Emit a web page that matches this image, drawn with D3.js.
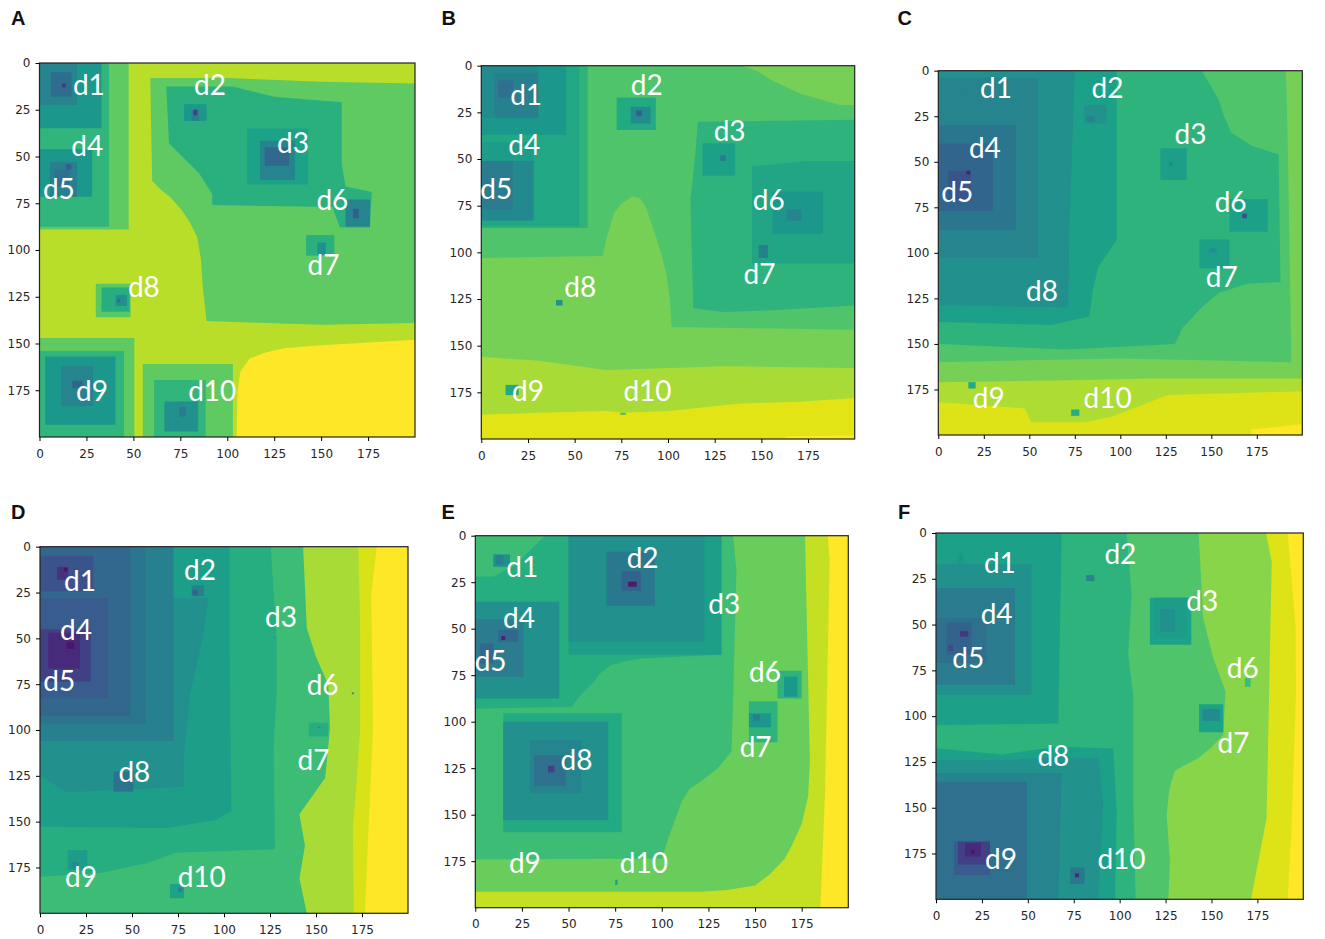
<!DOCTYPE html>
<html>
<head>
<meta charset="utf-8">
<script src="https://cdn.jsdelivr.net/npm/d3@7"></script>
<style>
  html, body { margin: 0; padding: 0; background: #fff; }
  .tick text { font-family: "DejaVu Sans", sans-serif; font-size: 12px; fill: #262626; }
  .letter { font-family: "Liberation Sans", Arial, sans-serif; font-size: 20px; font-weight: bold; fill: #111; }
  .dlabel { font-family: Lato, sans-serif; font-size: 28px; fill: #fff; text-anchor: middle; }
</style>
</head>
<body>
<div id="chart"></div>
<script>
const panelNames = ["A", "B", "C", "D", "E", "F"];
const tickValues = [0, 25, 50, 75, 100, 125, 150, 175];
const labelNames = ["d1", "d2", "d3", "d4", "d5", "d6", "d7", "d8", "d9", "d10"];

// each region: viridis value, then points in grid units. two points = a rectangle
const regionsA = [
  [0.875, [0, 0], [200, 200]],
  [1, [105, 200], [105.5, 175], [107, 165], [112, 158], [120, 155], [130, 152.5], [150, 151], [175, 149.5], [200, 148], [200, 200]],
  [0.73, [59, 8], [100, 8], [150, 10], [200, 11], [200, 139], [150, 140], [89, 138], [87, 120], [86, 105], [84, 93], [80, 85], [76, 79], [70, 72], [65, 68], [60, 63]],
  [0.61, [67.5, 12.5], [103, 12.5], [125, 18], [161, 21], [161, 54], [163, 66], [177, 69], [176, 88], [160, 88], [156, 77], [92, 76], [92, 70], [85, 59], [78, 52], [69, 43]],
  [0.42, [163, 73], [176, 87.5]],
  [0.25, [167, 78], [170, 83]],
  [0.55, [110.5, 35], [143, 65]],
  [0.42, [117.5, 41.6], [136, 62.6]],
  [0.3, [120, 45], [133, 55]],
  [0.5, [77, 22], [89, 31]],
  [0.4, [81, 25], [85, 31]],
  [0.15, [82, 25], [84, 28]],
  [0.61, [142, 92], [157, 103]],
  [0.47, [148, 96], [152.5, 102.5]],
  [0.72, [30, 118], [48.5, 136]],
  [0.6, [33, 120], [48, 133]],
  [0.47, [40.5, 124], [46.5, 130]],
  [0.35, [41.5, 126], [43, 128]],
  [0.73, [0, 0], [47.5, 89]],
  [0.63, [0, 0], [37, 87.5]],
  [0.5, [0, 0], [33, 35]],
  [0.42, [0, 0], [20, 22.5]],
  [0.32, [6, 5], [17, 18]],
  [0.12, [12, 11], [14, 13]],
  [0.63, [0, 35], [37, 46]],
  [0.5, [0, 46], [28, 71.5]],
  [0.4, [5.5, 53], [20, 71.5]],
  [0.33, [8, 57], [16, 66]],
  [0.25, [14, 54], [17, 57]],
  [0.73, [0, 147], [50.5, 200]],
  [0.63, [0, 154], [45, 200]],
  [0.5, [3, 157], [40.5, 193.5]],
  [0.42, [11.5, 162], [28.5, 183.5]],
  [0.28, [17.5, 170], [23, 174]],
  [0.73, [55, 161], [103, 200]],
  [0.63, [61, 169.5], [88.5, 200]],
  [0.47, [66.5, 181], [84.5, 197]],
  [0.38, [74.5, 184], [78, 189]]
];

const regionsB = [
  [0.7, [0, 0], [200, 200]],
  [0.77, [139.5, 0], [148, 3], [156, 8], [171, 15], [192, 21], [200, 21], [200, 0]],
  [0.77, [0, 103], [65, 102], [67, 93], [69, 86], [71, 79], [75, 74], [81, 70], [85, 71], [88, 75.5], [91, 84], [94, 93], [97, 103], [99, 111], [101, 125], [102, 140], [200, 141.5], [200, 200], [0, 200]],
  [0.85, [0, 156], [30, 158], [67, 163], [130, 161], [200, 162], [200, 200], [0, 200]],
  [0.95, [0, 187], [30, 186], [67, 185], [76, 186], [100, 185], [138.5, 181], [170, 180], [200, 178], [200, 200], [0, 200]],
  [1, [163, 198.5], [200, 198], [200, 200], [163, 200]],
  [0.62, [116, 30], [200, 29], [200, 128.5], [156, 131], [130, 132], [113.5, 130], [112, 72], [114.5, 49]],
  [0.56, [145, 54], [174, 51], [200, 51], [200, 106], [145, 106]],
  [0.5, [156, 67.5], [183, 90]],
  [0.42, [163.5, 77], [171.5, 83]],
  [0.4, [148.5, 96], [153.5, 103]],
  [0.54, [118.5, 41.5], [136, 59]],
  [0.38, [128, 48], [131, 51]],
  [0.58, [72.5, 17], [93.5, 34.5]],
  [0.45, [80, 22], [90.7, 31]],
  [0.25, [83, 24], [86, 27]],
  [0.58, [13, 171], [20, 176.5]],
  [0.48, [40, 125.5], [43.5, 128.5]],
  [0.66, [74.5, 186], [77.5, 187]],
  [0.62, [0, 0], [57, 87]],
  [0.57, [0, 0], [52.5, 86]],
  [0.5, [0, 0], [45.5, 37]],
  [0.45, [0, 0], [30.5, 28]],
  [0.4, [7, 4], [30.5, 28]],
  [0.33, [9, 8], [17, 17]],
  [0.52, [0, 41], [28, 83]],
  [0.44, [0, 51], [28, 83]],
  [0.38, [0, 51], [17, 77]]
];

const regionsC = [
  [0.7, [0, 0], [200, 200]],
  [0.77, [191, 0], [200, 0], [200, 200], [0, 200], [0, 160], [100, 158], [194, 160], [193, 100], [192, 40]],
  [0.62, [0, 0], [144.7, 0], [150, 9], [154, 16], [157, 25], [161, 34], [172, 41], [187, 46], [188, 116], [170, 117], [154, 122], [144.7, 130], [134, 141.5], [130, 150], [71, 153], [0, 150]],
  [0.86, [0, 171], [71, 170], [117, 169], [200, 169], [200, 200], [0, 200]],
  [0.94, [0, 182], [47.6, 185.4], [51, 193], [80.6, 193], [95, 190], [108, 185], [126, 178], [200, 176], [200, 200], [0, 200]],
  [1, [172, 197], [200, 194], [200, 200], [172, 200]],
  [0.54, [0, 0], [98, 0], [98, 93], [88, 107.6], [85, 120], [83, 135], [62, 139.6], [0, 138]],
  [0.47, [0, 0], [75, 0], [72, 89], [71.4, 130], [0, 128.7]],
  [0.42, [0, 4], [55, 102.5]],
  [0.36, [0, 30], [42.5, 87.5]],
  [0.29, [0, 40], [30, 77]],
  [0.22, [5.5, 55], [18, 71]],
  [0.05, [15.5, 55], [17.5, 57]],
  [0.4, [12.5, 11.5], [14, 13]],
  [0.48, [80, 19], [92.5, 29]],
  [0.42, [81.5, 25], [86, 28]],
  [0.53, [122, 42.6], [136.5, 60]],
  [0.42, [127, 50], [128.5, 52]],
  [0.54, [160, 70.5], [181, 88.4]],
  [0.2, [167, 78.5], [169.5, 81]],
  [0.54, [143.4, 92.6], [160, 108.5]],
  [0.47, [149, 97.5], [153, 100]],
  [0.58, [16.5, 171], [20.5, 174.5]],
  [0.6, [73, 186], [77.5, 189.5]]
];

const regionsD = [
  [0.66, [0, 0], [200, 200]],
  [0.85, [143, 0], [145, 44.5], [150, 60], [156.7, 75.5], [157.6, 99], [155, 126], [148, 136], [141, 146], [144, 163], [141, 181], [145, 200], [200, 200], [200, 0]],
  [0.93, [173, 0], [174, 44.5], [174, 99], [172, 130], [170, 153.6], [170.6, 200], [200, 200], [200, 0]],
  [1, [183, 0], [180, 26], [181, 99], [178.5, 154], [176.6, 200], [200, 200], [200, 0]],
  [0.6, [0, 0], [125.4, 0], [128.6, 50], [128.6, 81], [127, 108], [127.7, 165], [74, 167], [58, 172.7], [32.6, 178], [0, 180]],
  [0.53, [0, 0], [103, 0], [103, 44.5], [104, 144], [96, 149], [69, 153.6], [0, 152.7]],
  [0.47, [0, 0], [72.5, 0], [72.5, 28], [91.5, 28], [88.8, 48], [81.5, 81], [78, 117], [78, 131], [14.5, 134], [0, 125]],
  [0.4, [0, 0], [72.5, 106]],
  [0.36, [0, 0], [57.6, 97]],
  [0.3, [0, 0], [49, 92.7]],
  [0.25, [0, 28], [37, 82.7]],
  [0.22, [0, 5], [29, 24.5]],
  [0.15, [0, 45], [27.5, 73.6]],
  [0.08, [4.5, 47], [21.7, 66.4]],
  [0.02, [14.5, 52], [18.5, 55.8]],
  [0.1, [9.4, 11], [15.4, 18]],
  [0.02, [13, 11.5], [15, 13.5]],
  [0.4, [82.4, 21], [89, 27]],
  [0.28, [83, 23.5], [85.5, 26.5]],
  [0.5, [127, 49], [128, 50]],
  [0.4, [169.5, 79.5], [170.5, 80.5]],
  [0.6, [146, 96], [156.5, 103.5]],
  [0.5, [151, 98], [152.5, 99]],
  [0.35, [40, 122.7], [50.7, 133.6]],
  [0.52, [15, 165.5], [25.7, 176.4]],
  [0.45, [17.2, 172], [21, 175.5]],
  [0.55, [70.6, 184], [78.3, 191.8]],
  [0.42, [75, 186], [77.5, 188.5]]
];

const regionsE = [
  [0.9, [0, 0], [200, 200]],
  [1, [189, 0], [190, 14], [187.5, 139], [185, 200], [200, 200], [200, 0]],
  [0.75, [0, 0], [176.8, 0], [179.4, 121.5], [178.5, 140], [175, 155], [170, 166], [166, 173.5], [158, 182], [150, 188], [135, 190.5], [121, 191.4], [0, 191.4]],
  [0.66, [0, 0], [138.3, 0], [140, 19], [138.3, 85.7], [137.4, 116], [130, 125], [121, 132], [115, 136], [110.6, 143], [107, 153], [103.5, 162.7], [100, 173.5], [0, 174]],
  [0.6, [0, 93], [51.7, 92], [57, 85], [62.4, 80], [67, 74], [73, 69.5], [80, 67.5], [89, 66], [132, 64], [132, 0], [37.4, 0], [21, 16], [9.6, 22], [0, 22]],
  [0.53, [50, 0], [132, 64]],
  [0.47, [50, 0], [122.8, 57]],
  [0.37, [70.4, 8.6], [96.3, 37.6]],
  [0.28, [78.5, 19], [88.8, 29.7]],
  [0.03, [82, 24.7], [86.5, 27.4]],
  [0.47, [0, 35.5], [45, 87.5]],
  [0.38, [0, 45], [25.7, 75.8]],
  [0.3, [12.3, 50.7], [23, 57]],
  [0.03, [14, 54], [16, 56]],
  [0.3, [2.5, 58], [9.7, 68.6]],
  [0.47, [9.6, 10], [18.6, 16.7]],
  [0.4, [11, 10.4], [15, 15.4]],
  [0.58, [15, 95.5], [78.5, 159.5]],
  [0.47, [15, 100], [71.3, 153]],
  [0.42, [29.3, 110], [57, 138.5]],
  [0.33, [31.6, 118], [48.4, 134.4]],
  [0.15, [39, 123.7], [42.4, 127.2]],
  [0.62, [162, 72.6], [175, 87.5]],
  [0.5, [165.5, 75.8], [172.7, 86.6]],
  [0.62, [146.7, 89], [162, 111]],
  [0.5, [146.7, 95.5], [158.5, 103]],
  [0.4, [149, 96], [152.6, 99.6]],
  [0.55, [75, 185], [76.3, 187.8]]
];

const regionsF = [
  [0.8, [0, 0], [200, 200]],
  [0.94, [179.7, 0], [182.8, 15.7], [181, 106.6], [180, 155.8], [175.5, 179.4], [171.5, 200], [200, 200], [200, 0]],
  [1, [191.5, 0], [193.6, 24.7], [195.8, 52], [196, 88], [193.6, 161], [191.5, 200], [200, 200], [200, 0]],
  [0.7, [0, 0], [143, 0], [145.5, 46.6], [151, 68.4], [157.7, 86.6], [156.4, 110.3], [150, 117], [142.8, 123], [135, 127], [130, 130], [127, 140], [125.6, 154], [127.4, 179.4], [126.5, 200], [0, 200]],
  [0.62, [0, 0], [103.8, 0], [106.5, 34], [104.7, 66.6], [107.4, 88.4], [107.4, 143], [108.7, 200], [0, 200]],
  [0.54, [0, 0], [68.4, 0], [66.6, 104], [0, 105]],
  [0.54, [0, 117.5], [35.8, 121], [66.6, 116.6], [96.5, 117.6], [98.4, 152], [97.5, 200], [0, 200]],
  [0.48, [0, 124], [35.8, 124], [66, 122.5], [88.4, 123], [91, 147], [88.4, 200], [0, 200]],
  [0.42, [0, 131], [68.4, 131], [66.6, 200], [0, 200]],
  [0.33, [0, 135.8], [49.4, 200]],
  [0.25, [10, 168.5], [29.4, 186.7]],
  [0.15, [12, 168.5], [29.4, 181]],
  [0.08, [15.8, 169.4], [24.5, 176.7]],
  [0.02, [19, 173], [21, 175]],
  [0.37, [73, 182.7], [80.8, 191.6]],
  [0.08, [75.7, 185.8], [77.9, 188]],
  [0.47, [0, 17], [52, 88.4]],
  [0.38, [0, 30], [43, 83]],
  [0.33, [0, 46.6], [27.6, 71]],
  [0.28, [5.8, 49], [19.4, 66.6]],
  [0.12, [13, 53.5], [17.6, 56.6]],
  [0.18, [6.7, 61], [9.4, 64.4]],
  [0.5, [11.3, 11], [14.9, 16.6]],
  [0.42, [81.7, 23], [86.2, 26.2]],
  [0.55, [116.5, 35.3], [139, 61]],
  [0.52, [119, 35.3], [136.5, 57]],
  [0.47, [122, 41.5], [130, 54]],
  [0.66, [168.2, 79.3], [171.3, 84]],
  [0.55, [143.2, 93.5], [156.4, 108.8]],
  [0.45, [145, 96], [154.6, 102.6]]
];

// label anchors in grid units, same order as labelNames: [centre x, baseline y]
const labelsA = [[26.3, 17.3], [90.8, 17.3], [135, 48], [25.4, 49.5], [10.3, 72.8], [156, 78.6], [151.3, 113.3], [55.6, 125], [28, 180.6], [92, 180.6]];
const labelsB = [[24, 21], [88.6, 15.7], [133, 40.4], [23, 48], [8, 71.4], [154, 77.3], [149, 117], [53, 124], [25, 179.5], [89, 179.5]];
const labelsC = [[31.7, 15.2], [93, 15.2], [138.6, 40.4], [25.6, 48], [10.4, 72], [160.6, 77.4], [155.7, 119], [57, 126.4], [27.7, 185], [93, 185]];
const labelsD = [[21.7, 24], [87, 18], [131, 43.8], [19.6, 51], [10.5, 78.5], [153.6, 81], [148.6, 121.8], [51.3, 128.5], [22.3, 185.5], [87.9, 185.5]];
const labelsE = [[25.2, 22], [89.7, 17.2], [133.5, 42], [23.4, 49.8], [8.2, 73], [155.3, 78.5], [150.3, 118.8], [54.3, 126], [26.6, 181.5], [90.4, 181.5]];
const labelsF = [[34.8, 21.7], [100.4, 17], [145, 42.4], [33, 49.9], [17.6, 73.5], [167, 79], [162, 120.3], [63.9, 127.2], [35.4, 183.4], [101, 183.4]];

const allRegions = [regionsA, regionsB, regionsC, regionsD, regionsE, regionsF];
const allLabels = [labelsA, labelsB, labelsC, labelsD, labelsE, labelsF];

// plot box of each panel in page pixels: left, top, right, bottom
const boxes = [
  [39.5, 63, 415, 437],
  [481.3, 65.7, 854.7, 439],
  [938.3, 70.7, 1302.3, 435],
  [40, 546.7, 408, 913.3],
  [475.3, 535.7, 848.3, 907.7],
  [936, 533, 1303.3, 899.3]
];
const letterPos = [[11, 25], [441.5, 24.5], [897.5, 24.5], [11, 519], [441.5, 519], [898, 519]];

// values were read a little low in the mid greens, lift them before the colormap
const tone = d3.scaleLinear().domain([0, 0.85, 1]).range([0.04, 0.87, 1]);
const color = v => d3.interpolateViridis(tone(v));

const svg = d3.select("#chart").append("svg")
  .attr("width", 1325)
  .attr("height", 939)
  .style("display", "block");

// source image is a soft jpeg, blur the region edges slightly
svg.append("defs").append("filter")
  .attr("id", "soft")
  .append("feGaussianBlur")
  .attr("stdDeviation", 0.6);

panelNames.forEach((name, p) => {
  const [x0, y0, x1, y1] = boxes[p];
  const x = d3.scaleLinear().domain([0, 200]).range([x0, x1]);
  const y = d3.scaleLinear().domain([0, 200]).range([y0, y1]);
  const line = d3.line().x(d => x(d[0])).y(d => y(d[1]));

  const g = svg.append("g").attr("class", "panel-" + name);

  svg.select("defs").append("clipPath")
    .attr("id", "clip" + name)
    .append("rect")
    .attr("x", x0).attr("y", y0)
    .attr("width", x1 - x0).attr("height", y1 - y0);

  g.append("g")
    .attr("clip-path", `url(#clip${name})`)
    .append("g")
    .attr("filter", "url(#soft)")
    .selectAll("path.region")
    .data(allRegions[p])
    .enter()
    .append("path")
    .attr("class", "region")
    .attr("fill", d => color(d[0]))
    .attr("d", d => {
      let pts = d.slice(1);
      if (pts.length == 2) {
        const [a, b] = pts;
        pts = [a, [b[0], a[1]], b, [a[0], b[1]]];
      }
      return line(pts) + "Z";
    });

  g.append("rect")
    .attr("x", x0).attr("y", y0)
    .attr("width", x1 - x0).attr("height", y1 - y0)
    .attr("fill", "none").attr("stroke", "#222").attr("stroke-width", 1.2);

  g.append("g")
    .attr("transform", `translate(0,${y1})`)
    .call(d3.axisBottom(x).tickValues(tickValues).tickSize(4).tickPadding(8))
    .call(a => a.select(".domain").remove());

  g.append("g")
    .attr("transform", `translate(${x0},0)`)
    .call(d3.axisLeft(y).tickValues(tickValues).tickSize(4).tickPadding(5))
    .call(a => a.select(".domain").remove());

  g.selectAll("text.dlabel")
    .data(allLabels[p])
    .enter()
    .append("text")
    .attr("class", "dlabel")
    .attr("x", d => x(d[0]))
    .attr("y", d => y(d[1]))
    .text((d, i) => labelNames[i]);

  svg.append("text")
    .attr("class", "letter")
    .attr("x", letterPos[p][0])
    .attr("y", letterPos[p][1])
    .text(name);
});
</script>
</body>
</html>
